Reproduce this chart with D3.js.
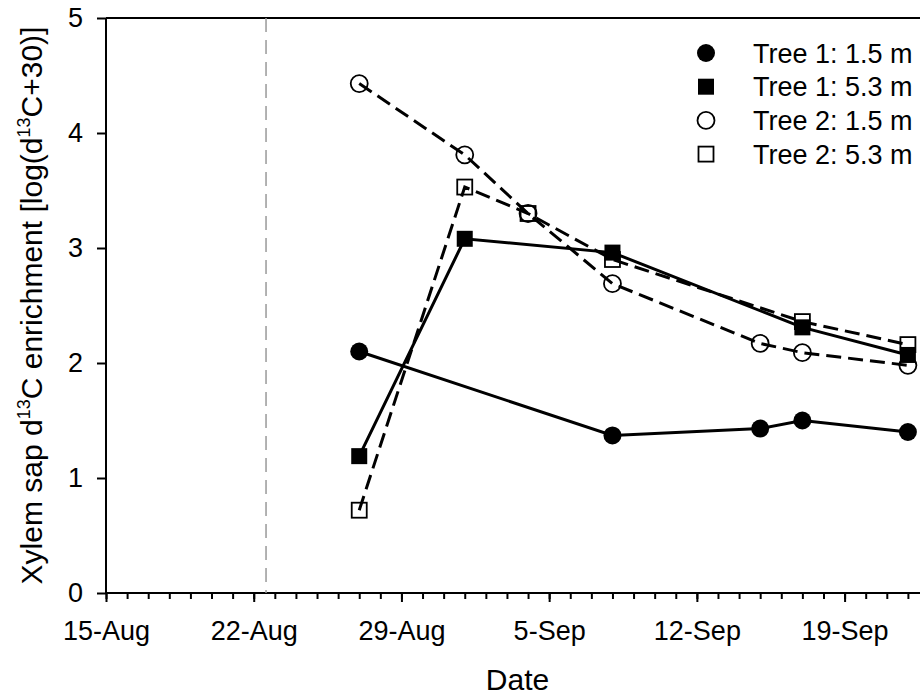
<!DOCTYPE html>
<html>
<meta charset="utf-8">
<style>
  body { margin: 0; background: #fff; }
  svg { display: block; font-family: Arial, "Liberation Sans", sans-serif; }
  .axis path, .axis line { stroke: #000; stroke-width: 2; }
  .axis text { font-size: 27px; fill: #000; }
</style>
<body>
<script src="https://d3js.org/d3.v7.min.js"></script>
<script>
  const width = 920, height = 698;
  const margin = {top: 18, right: -9, bottom: 105, left: 106};

  const parse = d3.timeParse("%Y-%m-%d");

  // sampling dates of each series
  const datesT1Low  = ["2011-08-27", "2011-09-08", "2011-09-15", "2011-09-17", "2011-09-22"];
  const valuesT1Low = [2.10, 1.37, 1.43, 1.50, 1.40];

  const datesT1High  = ["2011-08-27", "2011-09-01", "2011-09-08", "2011-09-17", "2011-09-22"];
  const valuesT1High = [1.19, 3.08, 2.96, 2.31, 2.07];

  const datesT2Low  = ["2011-08-27", "2011-09-01", "2011-09-04", "2011-09-08", "2011-09-15", "2011-09-17", "2011-09-22"];
  const valuesT2Low = [4.43, 3.81, 3.30, 2.69, 2.17, 2.09, 1.98];

  const datesT2High  = ["2011-08-27", "2011-09-01", "2011-09-04", "2011-09-08", "2011-09-17", "2011-09-22"];
  const valuesT2High = [0.72, 3.53, 3.30, 2.90, 2.36, 2.16];

  const xTickDates = ["2011-08-15", "2011-08-22", "2011-08-29", "2011-09-05", "2011-09-12", "2011-09-19"];
  const yTicks = [0, 1, 2, 3, 4, 5];
  const labelingDate = new Date(2011, 7, 22, 14); // dashed marker line

  const series = [
    {name: "Tree 2: 5.3 m", dates: datesT2High, values: valuesT2High, symbol: "square", filled: false, dashed: true},
    {name: "Tree 2: 1.5 m", dates: datesT2Low,  values: valuesT2Low,  symbol: "circle", filled: false, dashed: true},
    {name: "Tree 1: 1.5 m", dates: datesT1Low,  values: valuesT1Low,  symbol: "circle", filled: true,  dashed: false},
    {name: "Tree 1: 5.3 m", dates: datesT1High, values: valuesT1High, symbol: "square", filled: true,  dashed: false}
  ];
  const legendOrder = ["Tree 1: 1.5 m", "Tree 1: 5.3 m", "Tree 2: 1.5 m", "Tree 2: 5.3 m"];

  const svg = d3.select("body").append("svg")
    .attr("width", width)
    .attr("height", height);

  const x = d3.scaleTime()
    .domain([parse("2011-08-15"), parse("2011-09-23")])
    .range([margin.left, width - margin.right]);

  const y = d3.scaleLinear()
    .domain([0, 5])
    .range([height - margin.bottom, margin.top]);

  // top frame line
  svg.append("line")
    .attr("x1", margin.left).attr("x2", width - margin.right)
    .attr("y1", y(5)).attr("y2", y(5))
    .attr("stroke", "#000").attr("stroke-width", 2);

  // minor day ticks
  svg.append("g")
    .attr("class", "axis")
    .attr("transform", `translate(0,${y(0)})`)
    .call(d3.axisBottom(x).ticks(d3.timeDay.every(1)).tickSize(6).tickFormat(""))
    .call(g => g.select(".domain").remove());

  // major week ticks
  svg.append("g")
    .attr("class", "axis")
    .attr("transform", `translate(0,${y(0)})`)
    .call(d3.axisBottom(x)
      .tickValues(xTickDates.map(parse))
      .tickSize(9)
      .tickPadding(19)
      .tickFormat(d3.timeFormat("%-d-%b")))
    .call(g => g.select(".domain").attr("d", `M${margin.left},0H${width - margin.right}`));

  svg.append("g")
    .attr("class", "axis")
    .attr("transform", `translate(${margin.left},0)`)
    .call(d3.axisLeft(y).tickValues(yTicks).tickSize(9).tickPadding(14).tickFormat(d3.format("d")))
    .call(g => g.select(".domain").attr("d", `M0,${y(0)}V${y(5)}`));

  // dashed grey marker
  svg.append("line")
    .attr("x1", x(labelingDate)).attr("x2", x(labelingDate))
    .attr("y1", y(5)).attr("y2", y(0))
    .attr("stroke", "#999").attr("stroke-width", 1.5)
    .attr("stroke-dasharray", "14,8");

  const line = d3.line()
    .x(d => x(d.date))
    .y(d => y(d.value));

  function drawSymbol(g, s, cx, cy) {
    if (s.symbol === "circle") {
      g.append("circle")
        .attr("cx", cx).attr("cy", cy)
        .attr("r", s.filled ? 9 : 8.5)
        .attr("fill", s.filled ? "#000" : "none")
        .attr("stroke", "#000")
        .attr("stroke-width", s.filled ? 0 : 1.8);
    } else {
      const side = s.filled ? 16 : 15;
      g.append("rect")
        .attr("x", cx - side / 2).attr("y", cy - side / 2)
        .attr("width", side).attr("height", side)
        .attr("fill", s.filled ? "#000" : "none")
        .attr("stroke", "#000")
        .attr("stroke-width", s.filled ? 0 : 1.8);
    }
  }

  series.forEach(s => {
    const pts = s.dates.map((d, i) => ({date: parse(d), value: s.values[i]}));
    const g = svg.append("g");
    g.append("path")
      .datum(pts)
      .attr("d", line)
      .attr("fill", "none")
      .attr("stroke", "#000")
      .attr("stroke-width", 3)
      .attr("stroke-dasharray", s.dashed ? "15,7" : null);
    pts.forEach(p => drawSymbol(g, s, x(p.date), y(p.value)));
  });

  // legend
  const legend = svg.append("g");
  legendOrder.forEach((name, i) => {
    const s = series.find(d => d.name === name);
    const cy = 53 + i * 33.7;
    drawSymbol(legend, s, 706, cy);
    legend.append("text")
      .attr("x", 753)
      .attr("y", cy + 9.5)
      .attr("font-size", 27)
      .text(name);
  });

  // axis titles
  svg.append("text")
    .attr("x", (margin.left + width - margin.right) / 2)
    .attr("y", 690)
    .attr("text-anchor", "middle")
    .attr("font-size", 30)
    .text("Date");

  const yTitle = svg.append("text")
    .attr("transform", `translate(42,${(y(0) + y(5)) / 2}) rotate(-90)`)
    .attr("text-anchor", "middle")
    .attr("font-size", 30);
  yTitle.append("tspan").text("Xylem sap d");
  yTitle.append("tspan").attr("font-size", 18).attr("dy", -12).text("13");
  yTitle.append("tspan").attr("dy", 12).text("C enrichment [log(d");
  yTitle.append("tspan").attr("font-size", 18).attr("dy", -12).text("13");
  yTitle.append("tspan").attr("dy", 12).text("C+30)]");
</script>
</body>
</html>
